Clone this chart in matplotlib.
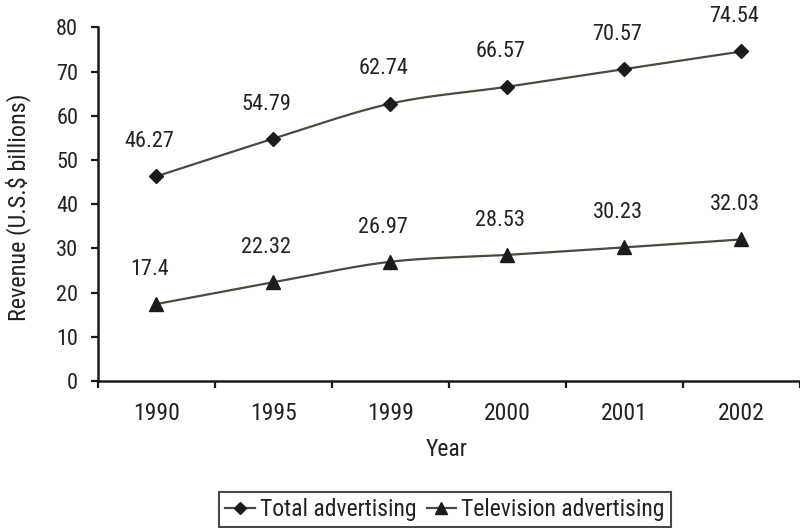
import numpy as np
import matplotlib
matplotlib.use("Agg")
import matplotlib.pyplot as plt
from matplotlib import font_manager
from matplotlib.lines import Line2D

# Prefer a condensed sans face; fall back to a plain sans if none is present.
_available = {f.name: f for f in font_manager.fontManager.ttflist}
_condensed = [f for f in font_manager.fontManager.ttflist
              if f.stretch not in ("normal", 500, "medium")
              or "Condensed" in f.name or "Narrow" in f.name]
FONT = None
for name in ["Roboto Condensed", "Liberation Sans Narrow", "Open Sans Condensed",
             "DejaVu Sans Condensed", "Noto Sans Condensed"]:
    if name in _available:
        FONT = name
        break
STRETCH = "normal"
if FONT is None and _condensed:
    FONT = _condensed[0].name
    STRETCH = _condensed[0].stretch
if FONT is None:
    FONT = "Roboto"
plt.rcParams['font.family'] = [FONT, 'DejaVu Sans']
plt.rcParams['font.stretch'] = STRETCH

years = ["1990", "1995", "1999", "2000", "2001", "2002"]
total_adv = [46.27, 54.79, 62.74, 66.57, 70.57, 74.54]
tv_adv = [17.4, 22.32, 26.97, 28.53, 30.23, 32.03]

LINE_COLOR = "#4a4a3e"
MARK_COLOR = "#1c1c1c"
TEXT_COLOR = "#222222"


def smooth(xs, ys, n=40):
    """Cubic Bezier through the points with Catmull-Rom style tangents."""
    xs = np.asarray(xs, float)
    ys = np.asarray(ys, float)
    px, py = [], []
    m = len(xs)
    for i in range(m - 1):
        x0, y0 = xs[max(i - 1, 0)], ys[max(i - 1, 0)]
        x1, y1 = xs[i], ys[i]
        x2, y2 = xs[i + 1], ys[i + 1]
        x3, y3 = xs[min(i + 2, m - 1)], ys[min(i + 2, m - 1)]
        c1x, c1y = x1 + (x2 - x0) / 6, y1 + (y2 - y0) / 6
        c2x, c2y = x2 - (x3 - x1) / 6, y2 - (y3 - y1) / 6
        t = np.linspace(0, 1, n)
        bx = (1 - t) ** 3 * x1 + 3 * (1 - t) ** 2 * t * c1x + 3 * (1 - t) * t ** 2 * c2x + t ** 3 * x2
        by = (1 - t) ** 3 * y1 + 3 * (1 - t) ** 2 * t * c1y + 3 * (1 - t) * t ** 2 * c2y + t ** 3 * y2
        px.extend(bx)
        py.extend(by)
    return np.array(px), np.array(py)


fig = plt.figure(figsize=(8, 5.28), dpi=100)
ax = fig.add_axes([0.122, 0.2784, 0.878, 0.6698])

x = np.arange(len(years))
for vals, marker, ms in [(total_adv, "D", 7.5), (tv_adv, "^", 9.5)]:
    sx, sy = smooth(x, vals)
    ax.plot(sx, sy, color=LINE_COLOR, lw=1.6, zorder=2)
    ax.plot(x, vals, linestyle="none", marker=marker, ms=ms,
            color=MARK_COLOR, zorder=3)
    for xi, v in zip(x, vals):
        ax.annotate(f"{v:g}", (xi, v), xytext=(-5, 25), textcoords="offset points",
                    ha="center", va="center", fontsize=16, color=TEXT_COLOR)

ax.set_xlim(-0.5, len(years) - 0.5)
ax.set_ylim(0, 80)
ax.set_yticks(np.arange(0, 81, 10))
ax.set_xticks(x)
ax.set_xticklabels(years)
ax.set_xticks(np.arange(-0.5, len(years)), minor=True)
ax.tick_params(axis="x", which="major", length=0, pad=15, labelsize=17, colors=TEXT_COLOR)
ax.tick_params(axis="x", which="minor", length=5, width=1.6, direction="out", color="#1a1a1a")
ax.tick_params(axis="y", length=5, width=1.6, direction="out", pad=9, labelsize=16,
               colors=TEXT_COLOR)
ax.tick_params(axis="y", color="#1a1a1a")

for side in ("top", "right"):
    ax.spines[side].set_visible(False)
for side in ("left", "bottom"):
    ax.spines[side].set_linewidth(1.8)
    ax.spines[side].set_color("#1a1a1a")

fig.text(447 / 800, 1 - 450 / 528, "Year", ha="center", va="center",
         fontsize=17, color=TEXT_COLOR)
fig.text(18 / 800, 1 - 207.5 / 528, "Revenue (U.S.$ billions)", rotation=90,
         ha="center", va="center", fontsize=17.5, color=TEXT_COLOR)

handles = [
    Line2D([], [], color=LINE_COLOR, lw=1.6, marker="D", ms=6.5,
           markerfacecolor=MARK_COLOR, markeredgecolor=MARK_COLOR),
    Line2D([], [], color=LINE_COLOR, lw=1.6, marker="^", ms=8.5,
           markerfacecolor=MARK_COLOR, markeredgecolor=MARK_COLOR),
]
leg = fig.legend(handles, ["Total advertising", "Television advertising"],
                 loc="center", bbox_to_anchor=(445 / 800, 1 - 509.7 / 528),
                 ncol=2, fontsize=17, frameon=True, fancybox=False,
                 handlelength=1.25, handletextpad=0.22, columnspacing=0.42,
                 borderpad=0.25, borderaxespad=0)
leg.get_frame().set_edgecolor("#1a1a1a")
leg.get_frame().set_linewidth(1.5)
for t in leg.get_texts():
    t.set_color(TEXT_COLOR)

fig.savefig("out.png", dpi=100)
